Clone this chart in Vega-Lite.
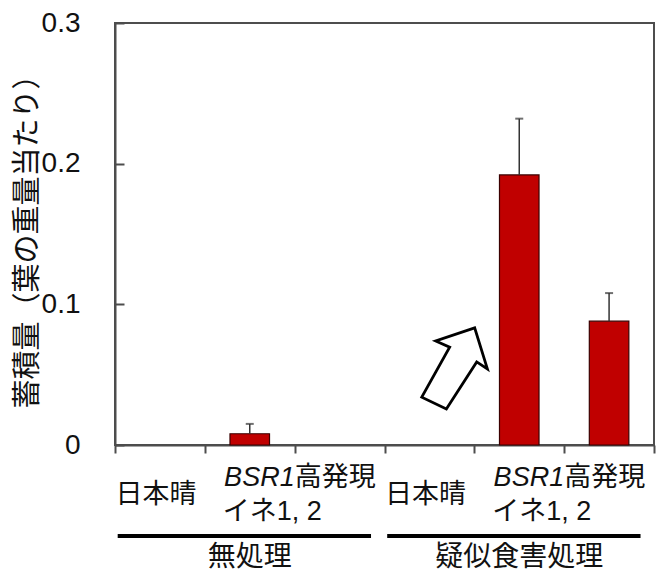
{
  "$schema": "https://vega.github.io/schema/vega-lite/v6.json",
  "width": 539,
  "height": 422,
  "autosize": {"type": "none"},
  "padding": {"left": 115, "top": 23, "right": 7, "bottom": 129},
  "background": "white",
  "config": {
    "view": {"stroke": "#4d4d4d", "strokeWidth": 2},
    "font": "Liberation Sans, Noto Sans CJK JP",
    "axis": {"domainColor": "#4d4d4d", "domainWidth": 2, "tickColor": "#4d4d4d", "tickWidth": 2, "grid": false, "labelColor": "#111111", "titleColor": "#111111"},
    "text": {"font": "Liberation Sans, Noto Sans CJK JP", "color": "#111111"}
  },
  "datasets": {
    "bars": [
      {"slot": "s1", "value": 0, "upper": null},
      {"slot": "s2", "value": 0.008, "upper": 0.015},
      {"slot": "s3", "value": 0, "upper": null},
      {"slot": "s4", "value": 0, "upper": null},
      {"slot": "s5", "value": 0.192, "upper": 0.232},
      {"slot": "s6", "value": 0.088, "upper": 0.108}
    ],
    "cultivar": [
      {"slot": "s1", "label": "日本晴"},
      {"slot": "s4", "label": "日本晴"}
    ],
    "lines": [
      {"slot": "s3"},
      {"slot": "s6"}
    ],
    "groups": [
      {"start": "s1", "end": "s3", "mid": "s2", "label": "無処理"},
      {"start": "s4", "end": "s6", "mid": "s5", "label": "疑似食害処理"}
    ]
  },
  "layer": [
    {
      "data": {"name": "bars"},
      "transform": [{"filter": "datum.value > 0"}],
      "mark": {"type": "bar", "width": {"band": 0.44}, "color": "#c00000", "stroke": "#3a0000", "strokeWidth": 1.2},
      "encoding": {
        "x": {
          "field": "slot", "type": "nominal",
          "scale": {"domain": ["s1", "s2", "s3", "s4", "s5", "s6"], "paddingInner": 0, "paddingOuter": 0},
          "axis": {"labels": false, "title": null, "tickBand": "extent", "tickSize": 8, "domain": true}
        },
        "y": {
          "field": "value", "type": "quantitative",
          "scale": {"domain": [0, 0.3], "nice": false, "zero": true},
          "axis": {
            "values": [0, 0.1, 0.2, 0.3], "format": ".1~f", "tickSize": -9,
            "labelPadding": 44, "labelFontSize": 28,
            "title": "蓄積量（葉の重量当たり）", "titleFontSize": 29, "titleFontWeight": "normal", "titlePadding": -1
          }
        }
      }
    },
    {
      "data": {"name": "bars"},
      "transform": [{"filter": "isValid(datum.upper)"}],
      "mark": {"type": "rule", "color": "#333333", "strokeWidth": 1.5},
      "encoding": {
        "x": {"field": "slot", "type": "nominal"},
        "y": {"field": "value", "type": "quantitative"},
        "y2": {"field": "upper"}
      }
    },
    {
      "data": {"name": "bars"},
      "transform": [{"filter": "isValid(datum.upper)"}],
      "mark": {"type": "tick", "color": "#333333", "size": 8, "thickness": 2},
      "encoding": {
        "x": {"field": "slot", "type": "nominal"},
        "y": {"field": "upper", "type": "quantitative"}
      }
    },
    {
      "data": {"name": "cultivar"},
      "mark": {"type": "text", "fontSize": 27, "baseline": "middle", "align": "center", "dx": -4},
      "encoding": {
        "x": {"field": "slot", "type": "nominal"},
        "y": {"datum": -0.0355},
        "text": {"field": "label"}
      }
    },
    {
      "data": {"name": "lines"},
      "mark": {"type": "text", "fontSize": 27, "baseline": "middle", "align": "right", "fontStyle": "italic", "text": "BSR1"},
      "encoding": {
        "x": {"field": "slot", "type": "nominal", "bandPosition": 0},
        "y": {"datum": -0.0235}
      }
    },
    {
      "data": {"name": "lines"},
      "mark": {"type": "text", "fontSize": 27, "baseline": "middle", "align": "left", "text": "高発現"},
      "encoding": {
        "x": {"field": "slot", "type": "nominal", "bandPosition": 0},
        "y": {"datum": -0.0235}
      }
    },
    {
      "data": {"name": "lines"},
      "mark": {"type": "text", "fontSize": 27, "baseline": "middle", "align": "left", "dx": -72, "text": "イネ1, 2"},
      "encoding": {
        "x": {"field": "slot", "type": "nominal", "bandPosition": 0},
        "y": {"datum": -0.0476}
      }
    },
    {
      "data": {"name": "groups"},
      "mark": {"type": "rule", "color": "#000000", "strokeWidth": 4},
      "encoding": {
        "x": {"field": "start", "type": "nominal", "bandPosition": 0.03},
        "x2": {"field": "end", "bandPosition": 0.85},
        "y": {"datum": -0.0647}
      }
    },
    {
      "data": {"name": "groups"},
      "mark": {"type": "text", "fontSize": 28, "baseline": "middle", "align": "center"},
      "encoding": {
        "x": {"field": "mid", "type": "nominal"},
        "y": {"datum": -0.0805},
        "text": {"field": "label"}
      }
    },
    {
      "data": {"values": [{"slot": "s4"}]},
      "mark": {
        "type": "point", "filled": true, "fill": "white", "stroke": "#000000", "strokeWidth": 2.8, "opacity": 1,
        "shape": "M0.49,-0.99 L-0.46,-0.67 L-0.12,-0.52 L-0.80,0.70 L-0.20,0.99 L0.54,-0.16 L0.80,0.01 Z",
        "size": 6724
      },
      "encoding": {
        "x": {"field": "slot", "type": "nominal", "bandPosition": 0.78},
        "y": {"datum": 0.0544}
      }
    }
  ]
}
